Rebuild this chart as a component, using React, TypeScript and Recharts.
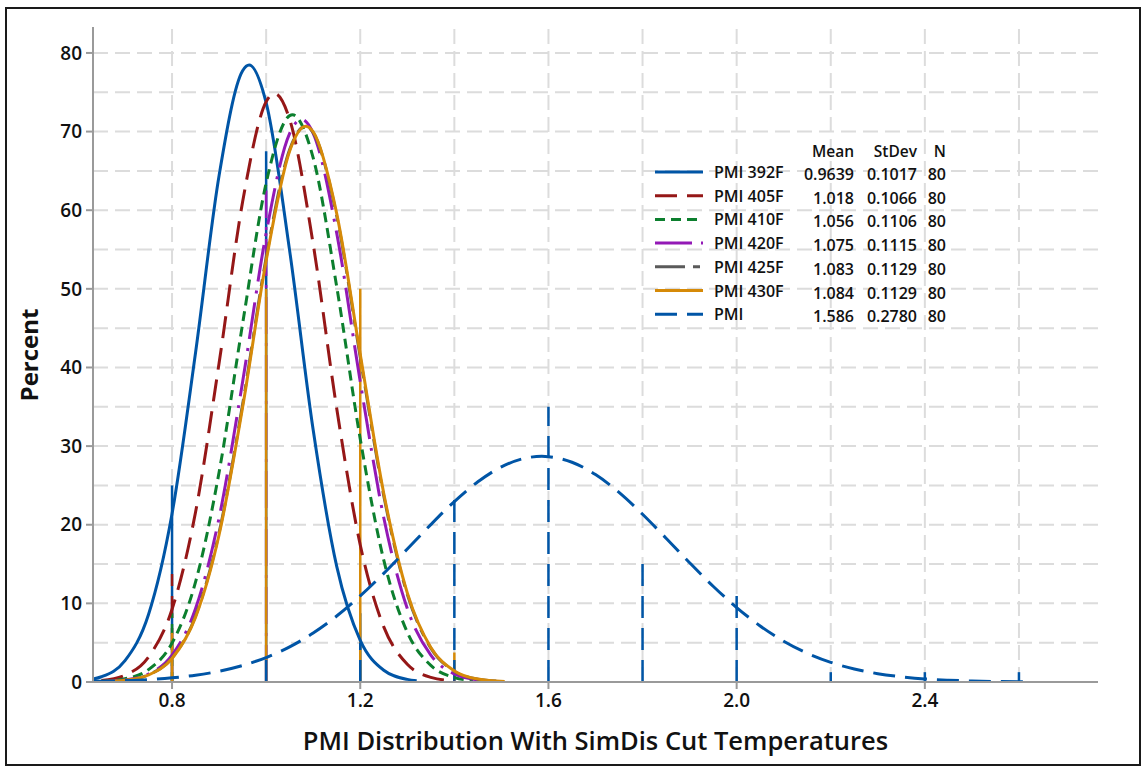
import React from 'react';
import { LineChart, Line, XAxis, YAxis, ReferenceLine } from 'recharts';

// ---------- data ----------
const seriesNames = ['PMI 392F', 'PMI 405F', 'PMI 410F', 'PMI 420F', 'PMI 425F', 'PMI 430F', 'PMI'];
const meanLabels = ['0.9639', '1.018', '1.056', '1.075', '1.083', '1.084', '1.586'];
const stdevLabels = ['0.1017', '0.1066', '0.1106', '0.1115', '0.1129', '0.1129', '0.2780'];
const countLabels = ['80', '80', '80', '80', '80', '80', '80'];

const fitX392 = [0.632, 0.65, 0.7, 0.75, 0.8, 0.85, 0.9, 0.95, 0.9639, 1.0, 1.05, 1.1, 1.15, 1.2, 1.25, 1.3, 1.32];
const fitPct392 = [0.38, 0.67, 2.71, 8.59, 21.4, 41.91, 64.41, 77.73, 78.46, 73.67, 54.83, 32.04, 14.7, 5.3, 1.5, 0.33, 0.17];

const fitX405 = [0.65, 0.7, 0.75, 0.8, 0.85, 0.9, 0.95, 1.0, 1.018, 1.05, 1.1, 1.15, 1.2, 1.25, 1.3, 1.35, 1.4];
const fitPct405 = [0.19, 0.87, 3.18, 9.25, 21.62, 40.56, 61.07, 73.79, 74.85, 71.55, 55.68, 34.78, 17.43, 7.01, 2.26, 0.59, 0.12];

const fitX410 = [0.65, 0.7, 0.75, 0.8, 0.85, 0.9, 0.95, 1.0, 1.05, 1.056, 1.1, 1.15, 1.2, 1.25, 1.3, 1.35, 1.4, 1.44];
const fitPct410 = [0.09, 0.41, 1.57, 4.95, 12.73, 26.68, 45.57, 63.46, 72.03, 72.14, 66.65, 50.27, 30.91, 15.49, 6.33, 2.11, 0.57, 0.17];

const fitX420 = [0.65, 0.7, 0.75, 0.8, 0.85, 0.9, 0.95, 1.0, 1.05, 1.075, 1.1, 1.15, 1.2, 1.25, 1.3, 1.35, 1.4, 1.45, 1.46];
const fitPct420 = [0.05, 0.25, 1.02, 3.42, 9.34, 20.88, 38.18, 57.08, 69.78, 71.56, 69.78, 57.08, 38.18, 20.88, 9.34, 3.42, 1.02, 0.25, 0.18];

const fitX425 = [0.65, 0.7, 0.75, 0.8, 0.85, 0.9, 0.95, 1.0, 1.05, 1.083, 1.1, 1.15, 1.2, 1.25, 1.3, 1.35, 1.4, 1.45, 1.49];
const fitPct425 = [0.05, 0.22, 0.91, 3.05, 8.4, 19.0, 35.31, 53.94, 67.72, 70.67, 69.87, 59.26, 41.31, 23.67, 11.15, 4.31, 1.37, 0.36, 0.11];

const fitX430 = [0.66, 0.7, 0.75, 0.8, 0.85, 0.9, 0.95, 1.0, 1.05, 1.084, 1.1, 1.15, 1.2, 1.25, 1.3, 1.35, 1.4, 1.45, 1.507];
const fitPct430 = [0.06, 0.22, 0.89, 2.99, 8.25, 18.73, 34.94, 53.58, 67.54, 70.67, 69.96, 59.57, 41.68, 23.98, 11.34, 4.4, 1.41, 0.37, 0.06];

const fitXPMI = [0.632, 0.65, 0.7, 0.75, 0.8, 0.85, 0.9, 0.95, 1.0, 1.05, 1.1, 1.15, 1.2, 1.25, 1.3, 1.35, 1.4, 1.45, 1.5, 1.55, 1.586,
  1.6, 1.65, 1.7, 1.75, 1.8, 1.85, 1.9, 1.95, 2.0, 2.05, 2.1, 2.15, 2.2, 2.25, 2.3, 2.35, 2.4, 2.45, 2.5, 2.55, 2.62];
const fitPctPMI = [0.08, 0.1, 0.18, 0.31, 0.53, 0.86, 1.37, 2.1, 3.11, 4.47, 6.23, 8.39, 10.95, 13.82, 16.91, 20.02, 22.95, 25.46, 27.36, 28.46, 28.7,
  28.66, 27.95, 26.38, 24.12, 21.34, 18.29, 15.17, 12.18, 9.47, 7.13, 5.19, 3.66, 2.5, 1.66, 1.06, 0.66, 0.39, 0.23, 0.13, 0.07, 0.03];

// histogram bin-edge lines (x, percent)
const edgeX392 = [0.8, 1.0, 1.2];
const edgePct392 = [25, 67.5, 8.75];
const edgeX405 = [0.8];
const edgePct405 = [13.75];
const edgeX410 = [0.8];
const edgePct410 = [8.75];
const edgeX420 = [1.0];
const edgePct420 = [62.5];
const edgeX425: number[] = [];
const edgePct425: number[] = [];
const edgeX430 = [0.8, 1.0, 1.2, 1.4];
const edgePct430 = [6.25, 50, 50, 3.75];
const edgeXPMI = [1.0, 1.2, 1.4, 1.6, 1.8, 2.0, 2.2, 2.4, 2.6];
const edgePctPMI = [3.75, 5, 23.75, 35, 15, 11.25, 1.25, 1.25, 1.25];

const xTicks = [0.8, 1.2, 1.6, 2.0, 2.4];
const xTickLabels = ['0.8', '1.2', '1.6', '2.0', '2.4'];
const yTicks = [0, 10, 20, 30, 40, 50, 60, 70, 80];
const xGrid = [0.8, 1.0, 1.2, 1.4, 1.6, 1.8, 2.0, 2.2, 2.4, 2.6];
const yGrid = [5, 10, 15, 20, 25, 30, 35, 40, 45, 50, 55, 60, 65, 70, 75, 80];
const xDomain = [0.632, 2.768];
const yDomain = [0, 83.3];

const xTitle = 'PMI Distribution With SimDis Cut Temperatures';
const yTitle = 'Percent';

// ---------- styles ----------
const seriesStyle = [
  { color: '#0055A6', dash: undefined as string | undefined },
  { color: '#951717', dash: '22 10' },
  { color: '#0C7F2E', dash: '10 6' },
  { color: '#9319B6', dash: '37 9 3 9' },
  { color: '#5A5A5A', dash: '30 8 7 8' },
  { color: '#D68A08', dash: undefined },
  { color: '#0055A6', dash: '22 10' },
];

const fitX = [fitX392, fitX405, fitX410, fitX420, fitX425, fitX430, fitXPMI];
const fitPct = [fitPct392, fitPct405, fitPct410, fitPct420, fitPct425, fitPct430, fitPctPMI];
const edgeX = [edgeX392, edgeX405, edgeX410, edgeX420, edgeX425, edgeX430, edgeXPMI];
const edgePct = [edgePct392, edgePct405, edgePct410, edgePct420, edgePct425, edgePct430, edgePctPMI];

const series = seriesNames.map((name, i) => ({
  name,
  data: fitX[i].map((x, j) => ({ x, y: fitPct[i][j] })),
  edges: edgeX[i].map((x, j) => ({ x, y: edgePct[i][j] })),
  ...seriesStyle[i],
}));

const FONT = '"Open Sans", "Noto Sans", "DejaVu Sans", sans-serif';
const AXIS_GRAY = '#9a9a9a';
const GRID_GRAY = '#dcdcdc';

function StatsLegend() {
  const rowY = (i: number) => 42 + i * 23.7;
  return (
    <svg width={330} height={200} style={{ position: 'absolute', left: 640, top: 130, fontFamily: FONT }}>
      <g fontSize={15.5} fill="#111" fontWeight={600}>
        <text x={214} y={21} textAnchor="end" dominantBaseline="central">Mean</text>
        <text x={277} y={21} textAnchor="end" dominantBaseline="central">StDev</text>
        <text x={306} y={21} textAnchor="end" dominantBaseline="central">N</text>
      </g>
      {series.map((s, i) => (
        <g key={s.name} fontSize={16} fill="#111" fontWeight={600}>
          <line x1={15} x2={63} y1={rowY(i)} y2={rowY(i)} stroke={s.color} strokeWidth={3} strokeDasharray={s.dash} />
          <text x={74} y={rowY(i)} dominantBaseline="central">{s.name}</text>
          <text x={214} y={rowY(i) + 2} textAnchor="end" dominantBaseline="central">{meanLabels[i]}</text>
          <text x={277} y={rowY(i) + 2} textAnchor="end" dominantBaseline="central">{stdevLabels[i]}</text>
          <text x={306} y={rowY(i) + 2} textAnchor="end" dominantBaseline="central">{countLabels[i]}</text>
        </g>
      ))}
    </svg>
  );
}

export default function App() {
  return (
    <div style={{ position: 'absolute', left: 0, top: 0, width: 1146, height: 773, background: '#fff', fontFamily: FONT }}>
      <div style={{ position: 'absolute', left: 5, top: 7, width: 1136, height: 759, border: '2px solid #1a1a1a', boxSizing: 'border-box' }} />
      <LineChart width={1146} height={773} margin={{ top: 27, right: 48, bottom: 51, left: 33 }} style={{ position: 'absolute', left: 0, top: 0 }}>
        <XAxis
          type="number"
          dataKey="x"
          domain={xDomain}
          allowDataOverflow
          ticks={xTicks}
          tickFormatter={(v: number) => xTickLabels[xTicks.indexOf(v)] ?? String(v)}
          height={40}
          tickSize={7}
          tickMargin={5}
          axisLine={{ stroke: AXIS_GRAY, strokeWidth: 2 }}
          tickLine={{ stroke: AXIS_GRAY, strokeWidth: 2 }}
          tick={{ fill: '#111', fontSize: 19, fontWeight: 600, fontFamily: FONT }}
        />
        <XAxis xAxisId="top" orientation="top" type="number" domain={xDomain} allowDataOverflow height={0} tick={false} tickLine={false} axisLine={{ stroke: AXIS_GRAY, strokeWidth: 2 }} />
        <YAxis
          type="number"
          domain={yDomain}
          allowDataOverflow
          ticks={yTicks}
          width={60}
          tickSize={7}
          tickMargin={4}
          axisLine={{ stroke: AXIS_GRAY, strokeWidth: 2 }}
          tickLine={{ stroke: AXIS_GRAY, strokeWidth: 2 }}
          tick={{ fill: '#111', fontSize: 19, fontWeight: 600, fontFamily: FONT }}
        />
        <YAxis yAxisId="right" orientation="right" type="number" domain={yDomain} allowDataOverflow width={0} tick={false} tickLine={false} axisLine={{ stroke: AXIS_GRAY, strokeWidth: 2 }} />

        {xGrid.map((g) => (
          <ReferenceLine key={'gx' + g} x={g} stroke={GRID_GRAY} strokeWidth={2} strokeDasharray="15 7" />
        ))}
        {yGrid.map((g) => (
          <ReferenceLine key={'gy' + g} y={g} stroke={GRID_GRAY} strokeWidth={2} strokeDasharray="15 7" />
        ))}

        {series.map((s) =>
          s.edges.map((e) => (
            <ReferenceLine
              key={s.name + 'e' + e.x}
              segment={[{ x: e.x, y: 0 }, { x: e.x, y: e.y }]}
              stroke={s.color}
              strokeWidth={2.5}
              strokeDasharray={s.dash}
              ifOverflow="visible"
            />
          ))
        )}

        {series.map((s) => (
          <Line
            key={s.name}
            data={s.data}
            dataKey="y"
            type="monotone"
            stroke={s.color}
            strokeWidth={3}
            strokeDasharray={s.dash}
            dot={false}
            activeDot={false}
            isAnimationActive={false}
          />
        ))}
      </LineChart>
      <div style={{ position: 'absolute', left: 93, width: 1005, top: 722, textAlign: 'center', fontSize: 25.5, fontWeight: 600, color: '#111', lineHeight: '36px' }}>
        {xTitle}
      </div>
      <div style={{ position: 'absolute', left: 29, top: 354.5, transform: 'translate(-50%, -50%) rotate(-90deg)', fontSize: 24, fontWeight: 700, color: '#111', whiteSpace: 'nowrap', lineHeight: '30px' }}>
        {yTitle}
      </div>
      <StatsLegend />
    </div>
  );
}
